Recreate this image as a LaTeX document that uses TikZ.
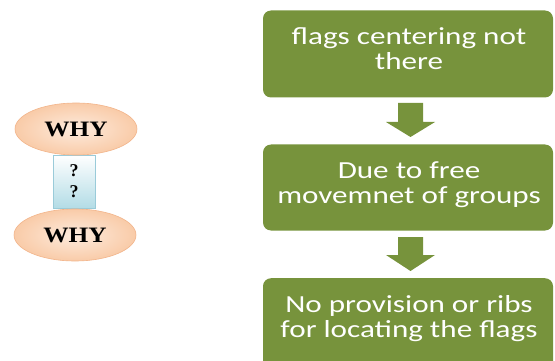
\documentclass[tikz,border=0pt]{standalone}
\usepackage{fontspec}
\usepackage{graphicx}
\setmainfont{Liberation Serif}
\newfontfamily\boxfont{Carlito}
\usetikzlibrary{shapes.geometric,shapes.arrows}
\definecolor{olive}{HTML}{77933C}
\definecolor{peachedge}{HTML}{F2B48A}
\definecolor{peachin}{HTML}{FDEBDD}
\definecolor{peachout}{HTML}{F9CBA8}
\definecolor{bluebd}{HTML}{9ACBD9}
\definecolor{bluebot}{HTML}{B3DCE6}
\begin{document}
\begin{tikzpicture}[x=1pt,y=-1pt,
  greenbox/.style={draw=none,fill=olive,rounded corners=8pt},
  boxtext/.style={text=white,font=\boxfont\fontsize{24.5}{25.5}\selectfont,align=center,inner sep=0pt},
  downarrow/.style={fill=olive,draw=none},
  whyell/.style={ellipse,draw=peachedge,line width=0.6pt,inner color=peachin,outer color=peachout,minimum width=122pt,minimum height=52pt,inner sep=0pt,font=\bfseries\fontsize{22}{22}\selectfont},
  qbox/.style={draw=bluebd,line width=0.6pt,top color=white,bottom color=bluebot,minimum width=42pt,minimum height=53pt,inner sep=0pt,font=\bfseries\fontsize{18}{21}\selectfont,align=center}]
\useasboundingbox (0,0) rectangle (555,361);
\clip (0,0) rectangle (555,361);
% left
\node[qbox] (q) at (74,181.5) {?\\?};
\node[whyell] (w1) at (76,129) {\scalebox{1.15}[1]{WHY}};
\node[whyell] (w2) at (75,235) {\scalebox{1.15}[1]{WHY}};
% right
\node[greenbox,minimum width=290pt,minimum height=87pt] (b1) at (408,54) {};
\node[greenbox,minimum width=290pt,minimum height=86pt] (b2) at (408,187.5) {};
\node[greenbox,minimum width=290pt,minimum height=100pt,anchor=north] (b3) at (408,278) {};
\node[boxtext] (t1) at (409,52) {\scalebox{1.27}[1]{\begin{tabular}{@{}c@{}}flags centering not\\there\end{tabular}}};
\node[boxtext] (t2) at (409,186) {\scalebox{1.27}[1]{\begin{tabular}{@{}c@{}}Due to free\\movemnet of groups\end{tabular}}};
\node[boxtext] (t3) at (409,320) {\scalebox{1.27}[1]{\begin{tabular}{@{}c@{}}No provision or ribs\\for locating the flags\end{tabular}}};
% arrows
\coordinate (a1) at (410.5,103);
\coordinate (a2) at (410.5,237);
\fill[downarrow] (a1) ++(-12.5,0) -- ++(25,0) -- ++(0,19) -- ++(12,0) -- ++(-24.5,15) -- ++(-24.5,-15) -- ++(12,0) -- cycle;
\fill[downarrow] (a2) ++(-12.5,0) -- ++(25,0) -- ++(0,18) -- ++(12,0) -- ++(-24.5,16) -- ++(-24.5,-16) -- ++(12,0) -- cycle;
\end{tikzpicture}
\end{document}
